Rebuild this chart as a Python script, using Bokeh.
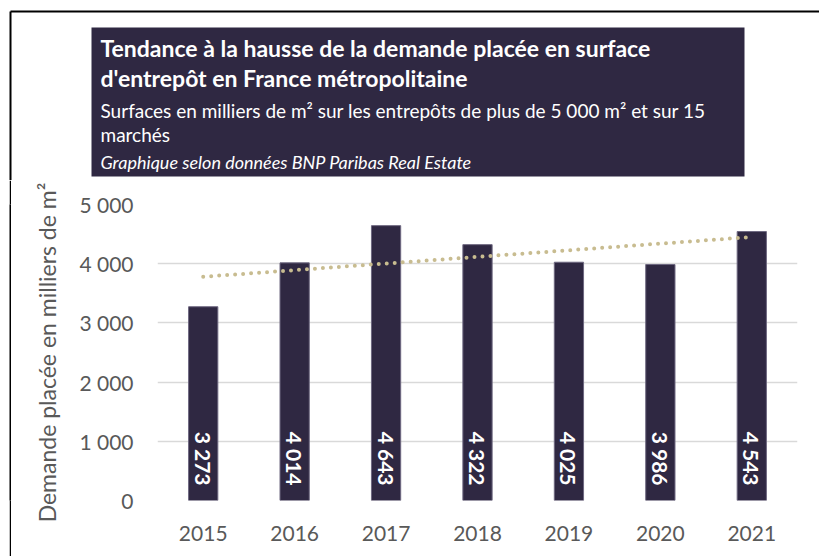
import numpy as np
from bokeh.plotting import figure
from bokeh.layouts import column, row
from bokeh.models import ColumnDataSource, FactorRange, Range1d, FixedTicker, Spacer
from bokeh.core.properties import value
from bokeh.embed import file_html
from bokeh.resources import INLINE

# ---------------- data ----------------
years = ["2015", "2016", "2017", "2018", "2019", "2020", "2021"]
demand = [3273, 4014, 4643, 4322, 4025, 3986, 4543]
bar_labels = ["3 273", "4 014", "4 643", "4 322", "4 025", "3 986", "4 543"]
y_ticks = [0, 1000, 2000, 3000, 4000, 5000]
y_tick_labels = ["0", "1 000", "2 000", "3 000", "4 000", "5 000"]

title_line1 = "Tendance à la hausse de la demande placée en surface"
title_line2 = "d'entrepôt en France métropolitaine"
subtitle_line1 = "Surfaces en milliers de m² sur les entrepôts de plus de 5 000 m² et sur 15"
subtitle_line2 = "marchés"
source_text = "Graphique selon données BNP Paribas Real Estate"
y_axis_title = "Demande placée en milliers de m²"

# linear trend line (least squares, as the spreadsheet trendline)
idx = np.arange(len(demand))
slope, intercept = np.polyfit(idx, demand, 1)
trend = list(slope * idx + intercept)

DARK = "#2F2842"
GRAY = "#595959"
FONT = "Lato"

W = 819
H_TOP = 180
H_MAIN = 556 - H_TOP
PAD_LEFT = 9
STRIP = 2

# ---------------- header figure (title box + outer border) ----------------
hdr = figure(width=W, height=H_TOP, x_range=Range1d(0, W), y_range=Range1d(H_TOP, 0),
             min_border=0, x_axis_location=None, y_axis_location=None,
             output_backend="svg", toolbar_location=None, tools="")
hdr.grid.visible = False
hdr.outline_line_color = None
hdr.background_fill_color = "white"
hdr.border_fill_color = "white"

# outer border (top and left edges)
hdr.segment(x0=[10, 10], y0=[11, 11], x1=[W + 5, 10], y1=[11, H_TOP + 5],
            line_color="black", line_width=2)
# title box
hdr.quad(left=[91], right=[744], top=[27], bottom=[176], fill_color=DARK, line_color=None)

hdr_src = ColumnDataSource(dict(
    x=[100, 100, 100, 100, 100],
    y=[47, 77, 110, 134, 161],
    text=[title_line1, title_line2, subtitle_line1, subtitle_line2, source_text],
    size=["23px", "23px", "19px", "19px", "18px"],
    style=["bold", "bold", "normal", "normal", "italic"],
))
hdr.text(x="x", y="y", text="text", source=hdr_src, text_font=value(FONT),
         text_font_size="size", text_font_style="style", text_color="white",
         text_align="left", text_baseline="alphabetic")

# ---------------- left border strip ----------------
strip = figure(width=STRIP, height=H_MAIN, x_range=Range1d(0, 1), y_range=Range1d(0, 1),
               min_border=0, x_axis_location=None, y_axis_location=None,
               output_backend="svg", toolbar_location=None, tools="")
strip.grid.visible = False
strip.outline_line_color = None
strip.background_fill_color = "black"
strip.border_fill_color = "black"

# ---------------- main chart ----------------
source = ColumnDataSource(dict(year=years, demand=demand, label=bar_labels,
                               base=[0] * len(years)))
trend_src = ColumnDataSource(dict(year=years, trend=trend))

MAIN_W = W - PAD_LEFT - STRIP
FRAME_LEFT = 157 - PAD_LEFT - STRIP
p = figure(x_range=FactorRange(*years, range_padding=0), y_range=Range1d(0, 5000),
           frame_width=640, frame_height=296,
           min_border_left=FRAME_LEFT, min_border_right=MAIN_W - FRAME_LEFT - 640,
           min_border_top=24, min_border_bottom=H_MAIN - 24 - 296,
           output_backend="svg", toolbar_location=None, tools="")
p.outline_line_color = None
p.background_fill_color = "white"
p.border_fill_color = "white"

p.xgrid.grid_line_color = None
p.ygrid.ticker = FixedTicker(ticks=y_ticks)
p.ygrid.grid_line_color = "#D9D9D9"
p.ygrid.grid_line_width = 1.5

p.vbar(x="year", top="demand", width=0.32, source=source,
       fill_color=DARK, line_color="#6E6880", line_width=1)

p.line(x="year", y="trend", source=trend_src, line_color="#C8BC90",
       line_width=4, line_dash="0 8", line_cap="round")

p.text(x="year", y="base", text="label", source=source, angle=-np.pi / 2,
       text_align="right", text_baseline="middle", y_offset=-15,
       text_color="white", text_font=value(FONT), text_font_style="bold",
       text_font_size="21px")

ya = p.yaxis[0]
ya.ticker = FixedTicker(ticks=y_ticks)
ya.major_label_overrides = {t: l for t, l in zip(y_ticks, y_tick_labels)}
ya.axis_line_color = None
ya.major_tick_line_color = None
ya.minor_tick_line_color = None
ya.major_tick_out = 0
ya.major_tick_in = 0
ya.major_label_standoff = 24
ya.major_label_text_font = FONT
ya.major_label_text_font_size = "21px"
ya.major_label_text_color = GRAY
ya.axis_label = y_axis_title
ya.axis_label_text_font = FONT
ya.axis_label_text_font_size = "23px"
ya.axis_label_text_font_style = "normal"
ya.axis_label_text_color = GRAY
ya.axis_label_standoff = 15

xa = p.xaxis[0]
xa.axis_line_color = None
xa.major_tick_line_color = None
xa.minor_tick_line_color = None
xa.major_tick_out = 0
xa.major_tick_in = 0
xa.major_label_standoff = 25
xa.major_label_text_font = FONT
xa.major_label_text_font_size = "21px"
xa.major_label_text_color = GRAY

layout = column(hdr, row(Spacer(width=PAD_LEFT, height=H_MAIN), strip, p))
open("out.html", "w").write(file_html(layout, INLINE))
